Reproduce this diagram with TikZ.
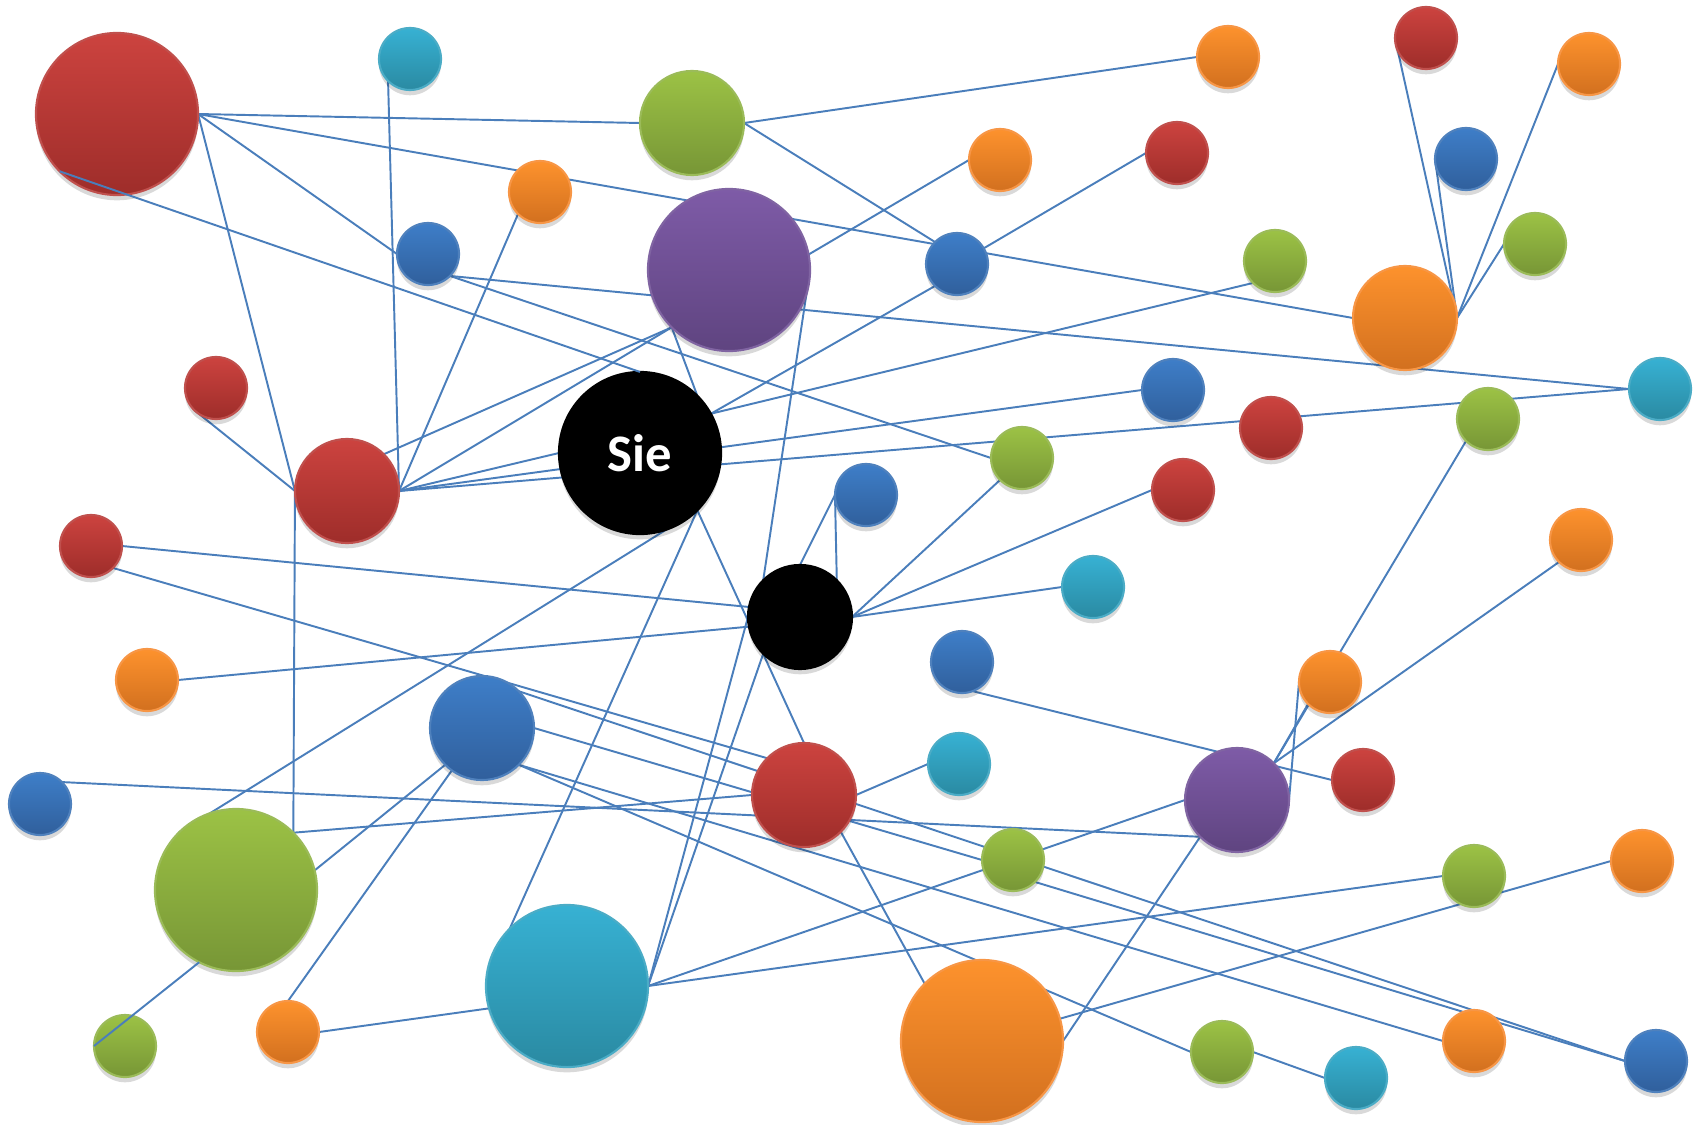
\documentclass[tikz,border=0pt]{standalone}
\usepackage{fontspec}
\setmainfont{Carlito}
\usetikzlibrary{backgrounds,shadows}

\definecolor{redT}{HTML}{CC433F}\definecolor{redB}{HTML}{9E2D2A}\definecolor{redE}{HTML}{C0504D}
\definecolor{grnT}{HTML}{9CC245}\definecolor{grnB}{HTML}{779636}\definecolor{grnE}{HTML}{9BBB59}
\definecolor{orgT}{HTML}{FD922D}\definecolor{orgB}{HTML}{D2701F}\definecolor{orgE}{HTML}{F79646}
\definecolor{bluT}{HTML}{3E7EC8}\definecolor{bluB}{HTML}{305F9C}\definecolor{bluE}{HTML}{4F81BD}
\definecolor{cyaT}{HTML}{37B1D3}\definecolor{cyaB}{HTML}{2A8AA2}\definecolor{cyaE}{HTML}{4BACC6}
\definecolor{purT}{HTML}{7E5BA7}\definecolor{purB}{HTML}{5F4480}\definecolor{purE}{HTML}{8064A2}
\definecolor{blkT}{HTML}{000000}\definecolor{blkB}{HTML}{000000}\definecolor{blkE}{HTML}{000000}
\definecolor{wireblue}{HTML}{4A7EBB}

\begin{document}
\begin{tikzpicture}[
    x=0.01cm, y=-0.01cm,
    ball/.style={circle, inner sep=0pt, outer sep=0pt, draw=#1E, line width=0.6pt,
      top color=#1T, bottom color=#1B,
      drop shadow={fill=black, opacity=0.15, shadow xshift=0pt, shadow yshift=-1.5pt}},
    bigball/.style={minimum size=1.62cm},
    midball/.style={minimum size=1.04cm},
    smallball/.style={minimum size=0.62cm},
    wire/.style={draw=wireblue, line width=0.55pt}
]

\useasboundingbox (0,0) rectangle (1700,1124);

% ===== BIG BALLS =====
\node[ball=red, bigball] (r1) at (117,114) {};
\node[ball=pur, bigball] (p1) at (729,270) {};
\node[ball=blk, bigball, text=white, font=\bfseries\fontsize{15}{18}\selectfont] (s) at (640,453) {Sie};
\node[ball=grn, bigball] (g7) at (236,890) {};
\node[ball=cya, bigball] (c5) at (567,986) {};
\node[ball=org, bigball] (o10) at (982,1041) {};

% ===== MEDIUM BALLS =====
\node[ball=grn, midball] (g1) at (692,123) {};
\node[ball=org, midball] (o5) at (1405,318) {};
\node[ball=red, midball] (r6) at (347,491) {};
\node[ball=blk, midball] (k) at (800,617) {};
\node[ball=blu, midball] (b7) at (482,728) {};
\node[ball=red, midball] (r9) at (804,795) {};
\node[ball=pur, midball] (p2) at (1237,800) {};

% ===== SMALL BALLS =====
\node[ball=cya, smallball] (c1) at (410,59) {};
\node[ball=org, smallball] (o1) at (1228,57) {};
\node[ball=red, smallball] (r2) at (1426,38) {};
\node[ball=org, smallball] (o2) at (1589,64) {};
\node[ball=org, smallball] (o3) at (1000,160) {};
\node[ball=red, smallball] (r3) at (1177,153) {};
\node[ball=org, smallball] (o4) at (540,192) {};
\node[ball=blu, smallball] (b1) at (428,254) {};
\node[ball=blu, smallball] (b2) at (957,264) {};
\node[ball=blu, smallball] (b3) at (1466,159) {};
\node[ball=grn, smallball] (g2) at (1275,261) {};
\node[ball=grn, smallball] (g3) at (1535,244) {};
\node[ball=cya, smallball] (c2) at (1660,389) {};
\node[ball=red, smallball] (r4) at (216,388) {};
\node[ball=blu, smallball] (b4) at (1173,390) {};
\node[ball=red, smallball] (r5) at (1271,428) {};
\node[ball=grn, smallball] (g4) at (1488,419) {};
\node[ball=grn, smallball] (g5) at (1022,458) {};
\node[ball=blu, smallball] (b5) at (866,495) {};
\node[ball=red, smallball] (r7) at (1183,490) {};
\node[ball=red, smallball] (r8) at (91,546) {};
\node[ball=org, smallball] (o6) at (1581,540) {};
\node[ball=cya, smallball] (c3) at (1093,587) {};
\node[ball=org, smallball] (o7) at (147,680) {};
\node[ball=blu, smallball] (b6) at (962,662) {};
\node[ball=org, smallball] (o8) at (1330,682) {};
\node[ball=cya, smallball] (c4) at (959,764) {};
\node[ball=red, smallball] (r10) at (1363,780) {};
\node[ball=blu, smallball] (b8) at (40,804) {};
\node[ball=grn, smallball] (g6) at (1013,860) {};
\node[ball=grn, smallball] (g8) at (1474,876) {};
\node[ball=org, smallball] (o9) at (1642,861) {};
\node[ball=grn, smallball] (g9) at (125,1046) {};
\node[ball=org, smallball] (o11) at (288,1032) {};
\node[ball=grn, smallball] (g10) at (1222,1052) {};
\node[ball=cya, smallball] (c6) at (1356,1078) {};
\node[ball=org, smallball] (o12) at (1474,1041) {};
\node[ball=blu, smallball] (b9) at (1656,1061) {};

% ===== LINKS (behind the balls) =====
\begin{scope}[on background layer]
\draw[wire] (r1.east) -- (g1.west);
\draw[wire] (r1.east) -- (o5.west);
\draw[wire] (r1.east) -- (b1.west);
\draw[wire] (r1.east) -- (r6.west);
\draw[wire] (c1.south west) -- (r6.east);
\draw[wire] (g1.east) -- (o1.west);
\draw[wire] (g1.east) -- (b2.north west);
\draw[wire] (o3.west) -- (p1.11);
\draw[wire] (r3.west) -- (b2);
\draw[wire] (b2.south west) -- (s.29);
\draw[wire] (g2.south west) -- (s.29);
\draw[wire] (r2.west) -- (o5.east);
\draw[wire] (b3.west) -- (o5.east);
\draw[wire] (o2.west) -- (o5.east);
\draw[wire] (g3.west) -- (o5.east);
\draw[wire] (b1.south east) -- (c2.west);
\draw[wire] (b1.south east) -- (g5.west);
\draw[wire] (o4.south west) -- (r6.east);
\draw[wire] (r6.north east) -- (p1.south west);
\draw[wire] (r6.east) -- (p1.south west);
\draw[wire] (r6.east) -- (s.west);
\draw[wire] (r6.east) -- (b4.west);
\draw[wire] (r6.east) -- (c2.west);
\draw[wire] (p1.south west) -- (s.north east);
\draw[wire] (p1.east) -- (k.north west);
\draw[wire] (r4.south west) -- (r6.west);
\draw[wire] (r6.west) -- (g7.north east);

% ----- small black hub -----
\draw[wire] (r8.east) -- (k.east);
\draw[wire] (o7.east) -- (k.east);
\draw[wire] (k.north) -- (b5.west);
\draw[wire] (b5.west) -- (k.north east);
\draw[wire] (k.east) -- (g5.south west);
\draw[wire] (k.east) -- (r7.west);
\draw[wire] (k.east) -- (c3.west);
\draw[wire] (k.west) -- (c5.east);
\draw[wire] (k.south west) -- (c5.east);

% ----- from Sie -----
\draw[wire] (s.south east) -- (r9.north);
\draw[wire] (s.south east) -- (c5.north west);
\draw[wire] (g7.north west) -- (s.south east);

% ----- lower half -----
\draw[wire] (r8.south east) -- (r9.north west);
\draw[wire] (g7.north east) -- (r9.west);
\draw[wire] (b8.north east) -- (p2.south west);
\draw[wire] (b7.south west) -- (g7.14);
\draw[wire] (o11.north) -- (b7);
\draw[wire] (o11.east) -- (c5.196);
\draw[wire] (b7.north east) -- (b9.west);
\draw[wire] (b7.south east) -- (o12.west);
\draw[wire] (b7.east) -- (g6.west);
\draw[wire] (b7.south east) -- (g10.west);
\draw[wire] (g6.south east) -- (b9.west);
\draw[wire] (c5.east) -- (p2.west);
\draw[wire] (c5.east) -- (g8.west);
\draw[wire] (o9.west) -- (o10);
\draw[wire] (o10.east) -- (p2.south west);
\draw[wire] (r9.east) -- (c4.west);
\draw[wire] (r9.south east) -- (o10.north west);
\draw[wire] (b6.-70) -- (r10.west);
\draw[wire] (g4.south west) -- (p2.north east);
\draw[wire] (o6.south west) -- (p2.north east);
\draw[wire] (o8.south west) -- (p2.north east);
\draw[wire] (o8.west) -- (p2.east);
\draw[wire] (g10.east) -- (c6.west);
\end{scope}

% ===== LINKS ON TOP =====
\draw[wire] (r1.south west) -- (s.north);
\draw[wire] (g7.243) -- (g9.west);

\end{tikzpicture}
\end{document}
